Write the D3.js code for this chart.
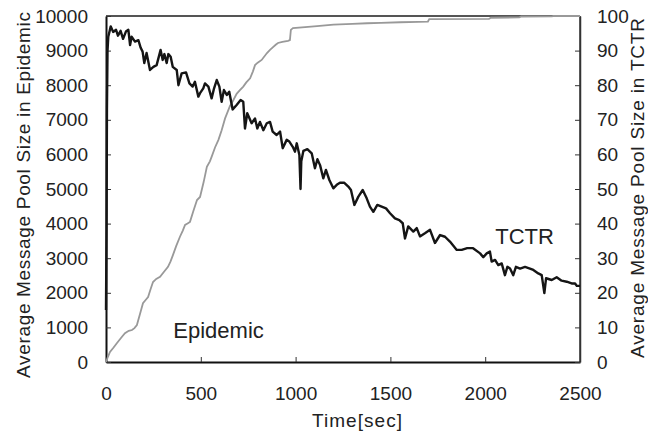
<!DOCTYPE html>
<html>
<head>
  <meta charset="utf-8"/>
  <title>Message Pool Size</title>
  <script src="https://d3js.org/d3.v7.min.js"></script>
  <style>
    body { margin:0; background:#fff; }
    text { font-family: "Liberation Sans", Arial, sans-serif; fill:#222; }
  </style>
</head>
<body>
<div id="chart"></div>
<script type="text/javascript">
// x ticks / y ticks
var timeTicks = [0, 500, 1000, 1500, 2000, 2500];
var epiTicks = [0,1000,2000,3000,4000,5000,6000,7000,8000,9000,10000];
var tctrTicks = [0,10,20,30,40,50,60,70,80,90,100];

// Epidemic series (left axis) : [time, pool size]
var epidemic = [[0,0],[10,150],[21,290],[40,420],[58,550],[80,700],[100,830],[120,900],[137,925],
  [150,980],[163,1070],[180,1400],[195,1700],[210,1800],[222,1880],[235,2100],[248,2310],[265,2400],
  [285,2460],[305,2600],[327,2750],[340,2900],[353,3090],[370,3350],[390,3620],[405,3800],[417,3960],
  [430,4000],[443,4050],[460,4350],[480,4680],[496,4770],[515,5200],[532,5640],[548,5800],[557,5930],
  [575,6200],[593,6420],[610,6700],[628,7040],[654,7400],[670,7550],[689,7750],[705,7850],[724,7960],
  [740,8080],[760,8200],[775,8400],[786,8580],[800,8650],[821,8730],[849,8930],[865,9020],[881,9100],
  [895,9170],[907,9220],[930,9250],[960,9280],[970,9300],[975,9600],[986,9650],[1050,9680],[1113,9710],
  [1200,9750],[1300,9770],[1377,9790],[1450,9800],[1551,9820],[1650,9830],[1698,9840],[1705,9910],
  [2020,9915],[2030,9950],[2180,9960],[2190,9985],[2350,9990],[2360,10000],[2500,10000]];

// TCTR series (right axis) : [time, pool size]
var tctr = [[0,15],[3,40],[5,73],[8,90],[12,94],[25,97],[38,95.4],[53,96],[63,94.3],[77,95.7],[90,93.4],
  [105,95.5],[118,96],[127,91.6],[135,94],[153,92.6],[171,93],[183,90.8],[193,89.7],[202,86.4],[214,89.3],
  [232,84.4],[250,85.3],[267,85.8],[288,90.2],[299,87.3],[308,89],[320,86.4],[329,89],[341,88.2],[352,85.3],
  [373,84.4],[382,80],[399,83.4],[422,83.7],[440,80.5],[457,79.6],[469,81],[487,76.7],[496,77.7],[513,79.1],
  [522,80.5],[540,79.6],[557,76.2],[570,79.1],[584,81.5],[598,79.6],[610,75.2],[622,78.6],[637,77.2],
  [650,78.1],[668,73],[689,74.3],[710,75.7],[724,75.2],[733,67.5],[745,71.9],[768,69],[786,70.4],[798,67.5],
  [812,69.4],[830,67],[848,69],[865,69.4],[879,66.6],[900,65.6],[918,66.6],[932,61.8],[953,64.2],[967,63.7],
  [985,62.2],[997,60.8],[1006,63.2],[1020,59.8],[1026,50],[1030,58],[1041,61],[1062,61.5],[1085,60.3],
  [1102,56],[1115,58.6],[1129,56.9],[1146,53.1],[1160,55.5],[1178,52.6],[1199,50.2],[1217,51.2],[1234,51.8],
  [1257,51.8],[1278,50.7],[1292,49.7],[1310,45.4],[1331,47.8],[1354,49.7],[1375,47.3],[1392,44.9],
  [1410,43.4],[1431,45.4],[1454,44.9],[1477,44.4],[1498,43],[1524,41.5],[1547,41],[1565,40.1],[1577,35.7],
  [1594,39.2],[1621,37.7],[1639,38.7],[1656,36.3],[1682,37.2],[1709,38.2],[1735,34.4],[1762,36.7],
  [1788,36.2],[1814,34.8],[1850,32.4],[1876,32.4],[1905,32.9],[1936,32.9],[1973,31.4],[1990,30.3],
  [2008,31.4],[2025,31.9],[2034,29],[2052,29.5],[2069,28],[2087,28.5],[2104,25.1],[2117,27.5],[2131,27],
  [2148,25.1],[2162,27.5],[2184,27],[2210,27.5],[2236,27],[2254,26.6],[2280,25.6],[2298,25.1],[2312,19.9],
  [2321,24.2],[2351,23.7],[2377,24.5],[2403,23.5],[2430,23.2],[2456,22.7],[2474,22.7],[2483,22],[2500,22]];

var W = 648, H = 432;
var m = {left:106, right:68, top:16, bottom:70};
var pw = W - m.left - m.right, ph = H - m.top - m.bottom;

var svg = d3.select("#chart").append("svg")
    .attr("width", W).attr("height", H);
var g = svg.append("g").attr("transform", "translate(" + m.left + "," + m.top + ")");

var x = d3.scaleLinear().domain([0, 2500]).range([0, pw]);
var yL = d3.scaleLinear().domain([0, 10000]).range([ph, 0]);
var yR = d3.scaleLinear().domain([0, 100]).range([ph, 0]);
var fmt = d3.format("d");

// frame top / right
g.append("line").attr("x1",0).attr("x2",pw).attr("y1",0).attr("y2",0)
  .attr("stroke","#555").attr("stroke-width",2);
g.append("line").attr("x1",pw).attr("x2",pw).attr("y1",0).attr("y2",ph)
  .attr("stroke","#333").attr("stroke-width",1.5);

function styleAxis(sel){
  sel.select(".domain").attr("stroke","#111").attr("stroke-width",2);
  sel.selectAll(".tick line").attr("stroke","#333");
  sel.selectAll(".tick text").style("font-size","19px").attr("fill","#222");
}

var xAx = g.append("g").attr("transform","translate(0,"+ph+")")
  .call(d3.axisBottom(x).tickValues(timeTicks).tickFormat(fmt)
    .tickSizeInner(-5).tickSizeOuter(0).tickPadding(25));
styleAxis(xAx);

var lAx = g.append("g")
  .call(d3.axisLeft(yL).tickValues(epiTicks).tickFormat(fmt)
    .tickSizeInner(-5).tickSizeOuter(0).tickPadding(18));
styleAxis(lAx);

var rAx = g.append("g").attr("transform","translate("+pw+",0)")
  .call(d3.axisRight(yR).tickValues(tctrTicks).tickFormat(fmt)
    .tickSizeInner(-5).tickSizeOuter(0).tickPadding(17));
styleAxis(rAx);
rAx.select(".domain").attr("stroke","#333").attr("stroke-width",1.5);

// lines
var lineL = d3.line().x(function(d){return x(d[0]);}).y(function(d){return yL(d[1]);});
var lineR = d3.line().x(function(d){return x(d[0]);}).y(function(d){return yR(d[1]);});

g.append("path").datum(epidemic).attr("d", lineL)
  .attr("fill","none").attr("stroke","#999").attr("stroke-width",1.8);
g.append("path").datum(tctr).attr("d", lineR)
  .attr("fill","none").attr("stroke","#151515").attr("stroke-width",2.4).attr("stroke-linejoin","round");

// series labels
g.append("text").attr("x", x(355)).attr("y", yL(680)).style("font-size","22px").text("Epidemic");
g.append("text").attr("x", x(2053)).attr("y", yR(34)).style("font-size","22px").text("TCTR");

// axis titles
svg.append("text").attr("x", 357).attr("y", 427).attr("text-anchor","middle")
  .style("font-size","19px").attr("textLength",90).attr("lengthAdjust","spacing")
  .text("Time[sec]");
svg.append("text").attr("transform","translate(30,195) rotate(-90)").attr("text-anchor","middle")
  .style("font-size","19px").attr("textLength",366).attr("lengthAdjust","spacing")
  .text("Average Message Pool Size in Epidemic");
svg.append("text").attr("transform","translate(644,188) rotate(-90)").attr("text-anchor","middle")
  .style("font-size","19px").attr("textLength",340).attr("lengthAdjust","spacing")
  .text("Average Message Pool Size in TCTR");
</script>
</body>
</html>
